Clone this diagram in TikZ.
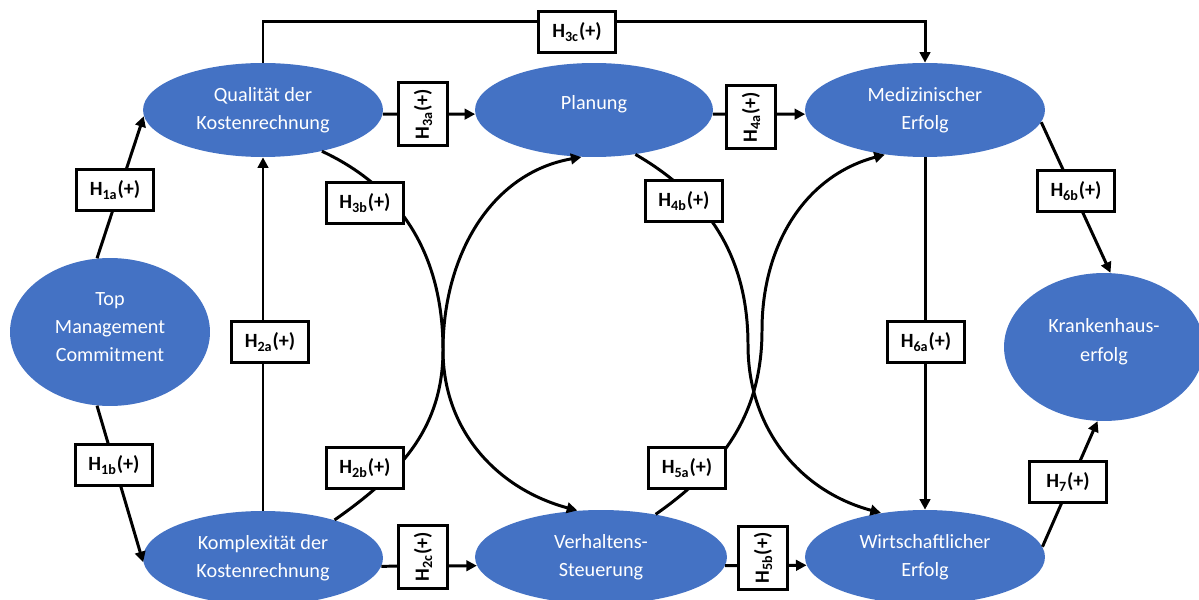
\documentclass[tikz,border=0pt]{standalone}
\usepackage{fontspec}
\setmainfont{Carlito}
\usetikzlibrary{arrows.meta, shapes.geometric, positioning}
\definecolor{officeblue}{HTML}{4472C4}
\tikzset{
  bubble/.style = {ellipse, fill=officeblue, text=white, inner sep=0pt, align=center,
                   minimum width=4.8cm, minimum height=1.88cm,
                   font=\fontsize{11.5}{16}\selectfont},
  bigbubble/.style = {bubble, minimum width=4cm, minimum height=2.96cm},
  hyp/.style    = {draw, line width=1.8pt, fill=white, inner sep=0pt,
                   minimum width=44pt, minimum height=23pt,
                   font=\fontsize{11.5}{13}\selectfont\bfseries},
  hypv/.style   = {hyp, rotate=90, minimum width=36pt, minimum height=28pt},
  link/.style   = {-{Triangle[length=6pt,width=6pt]}, line width=1.7pt, black},
}

\begin{document}
\begin{tikzpicture}[x=0.02cm, y=0.02cm]
  \useasboundingbox (0,0) rectangle (1199,599);
  \clip (0,0) rectangle (1199,599);
  % constructs
  \node[bigbubble, text depth=5.6pt] (tmc) at (110,267) {Top\\Management\\Commitment};
  \node[bubble] (qual) at (263,489) {Qualität der\\Kostenrechnung};
  \node[bubble] (kompl) at (263,41) {Komplexität der\\Kostenrechnung};
  \node[bubble, minimum width=4.76cm, text depth=9pt] (plan) at (594,489) {Planung};
  \node[bubble, minimum width=5.04cm] (verh) at (601,42) {Verhaltens-\\Steuerung};
  \node[bubble] (med) at (925,489) {Medizinischer\\Erfolg};
  \node[bubble] (wirt) at (925,42) {Wirtschaftlicher\\Erfolg};
  \node[bigbubble, text depth=8pt] (krank) at (1104,252) {Krankenhaus-\\erfolg};
  \coordinate (lmid) at (443,249);
  \coordinate (rmidpw) at (748,254);
  \coordinate (rmidvm) at (762,269);
  % paths
  \draw[link] (tmc.100) -- (qual.183);
  \draw[link] (tmc.-100) -- (kompl.182);
  \draw[link] (kompl.north) -- (qual.south);
  \draw[link] (qual.north) -- ++(0,41) -| (med.north);
  \draw[link] (qual.-2) -- (plan.182);
  \draw[link] (plan.-2) -- (med.182);
  \draw[link] (kompl.-4) -- (verh.184);
  \draw[link] (verh.-4) -- (wirt.184);
  \draw[link] (med.south) -- (wirt.north);
  \draw[link] (med.-6) -- (krank.85);
  \draw[link] (wirt.5) -- (krank.-95);
  \draw[link] (qual.-35) to[out=-25, in=90] (lmid) to[out=-90, in=165] (verh.117);
  \draw[link] (kompl.28) to[out=35, in=-90] (lmid) to[out=90, in=190] (plan.-105);
  \draw[link] (plan.-47) to[out=-30, in=90] (rmidpw) to[out=-90, in=165] (wirt.135);
  \draw[link] (verh.38) to[out=35, in=-90] (rmidvm) to[out=90, in=195] (med.228);
  % hypotheses
  \node[hyp] (h1a) at (115,409) {H\textsubscript{1a}(+)};
  \node[hyp] (h1b) at (114,134) {H\textsubscript{1b}(+)};
  \node[hyp] (h2a) at (270,257) {H\textsubscript{2a}(+)};
  \node[hyp] (h2b) at (365,131) {H\textsubscript{2b}(+)};
  \node[hypv] (h2c) at (423,42) {H\textsubscript{2c}(+)};
  \node[hypv] (h3a) at (423,485) {H\textsubscript{3a}(+)};
  \node[hyp] (h3b) at (365,396) {H\textsubscript{3b}(+)};
  \node[hyp] (h3c) at (577,567) {H\textsubscript{3c}(+)};
  \node[hypv] (h4a) at (751,482) {H\textsubscript{4a}(+)};
  \node[hyp] (h4b) at (684,398) {H\textsubscript{4b}(+)};
  \node[hyp] (h5a) at (687,131) {H\textsubscript{5a}(+)};
  \node[hypv] (h5b) at (763,41) {H\textsubscript{5b}(+)};
  \node[hyp] (h6a) at (926,257) {H\textsubscript{6a}(+)};
  \node[hyp] (h6b) at (1076,408) {H\textsubscript{6b}(+)};
  \node[hyp] (h7) at (1068,117) {H\textsubscript{7}(+)};
\end{tikzpicture}
\end{document}
